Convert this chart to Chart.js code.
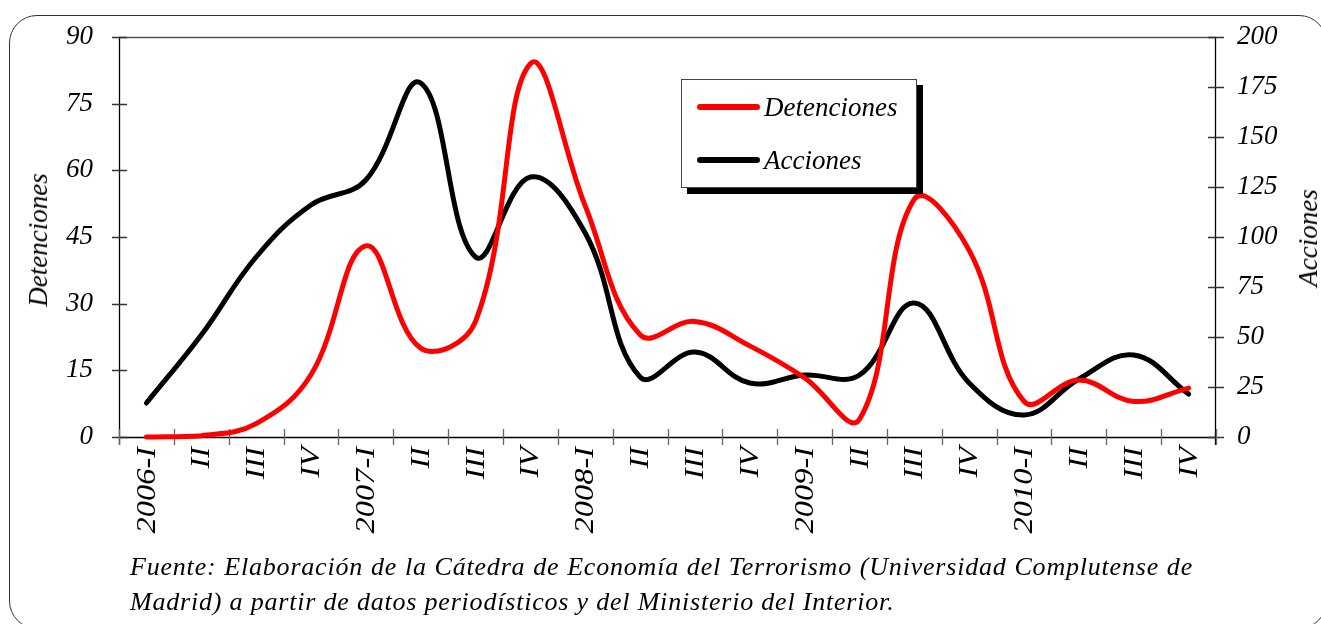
<!DOCTYPE html>
<html>
<head>
<meta charset="utf-8">
<script src="https://cdn.jsdelivr.net/npm/chart.js@4.4.1/dist/chart.umd.min.js"></script>
<style>
  html, body { margin: 0; padding: 0; background: #fff; }
  #wrap { position: relative; width: 1321px; height: 624px; overflow: hidden; background: #fff; }
  #frame { position: absolute; left: 9px; top: 15px; width: 1318px; height: 614px; border: 1.6px solid #333; border-radius: 28px; box-sizing: border-box; }
  canvas { position: absolute; left: 0; top: 0; }
  .serif { font-family: "Liberation Serif", "Times New Roman", serif; font-style: italic; color: #000; }
  #legend { position: absolute; left: 681px; top: 79px; width: 236px; height: 109px; box-sizing: border-box; border: 1.3px solid #444; background: #fff; box-shadow: 6px 6px 0 #000; }
  .item { position: absolute; left: 15px; height: 30px; }
  .sw { position: absolute; left: 0; top: 12px; width: 63px; height: 6px; border-radius: 3px; }
  .lt { position: absolute; left: 67px; top: 0; font-size: 27px; line-height: 30px; white-space: nowrap; }
  .atitle { position: absolute; font-size: 27px; white-space: nowrap; transform: translate(-50%, -50%) rotate(-90deg); line-height: 30px; }
  #foot { position: absolute; left: 130px; top: 549px; width: 1063px; font-size: 26px; line-height: 35px; letter-spacing: 0.8px; }
  #foot .l1 { text-align: justify; text-align-last: justify; white-space: nowrap; }
</style>
</head>
<body>
<div id="wrap">
  <div id="frame"></div>
  <canvas id="c" width="1321" height="624"></canvas>
  <div id="legend" class="serif"></div>
  <div class="atitle serif" id="tl" style="left:38px; top:240px;">Detenciones</div>
  <div class="atitle serif" id="tr" style="left:1308px; top:238px;">Acciones</div>
  <div id="foot" class="serif">
    <div class="l1">Fuente: Elaboración de la Cátedra de Economía del Terrorismo (Universidad Complutense de</div>
    <div class="l2">Madrid) a partir de datos periodísticos y del Ministerio del Interior.</div>
  </div>
</div>
<script>
// ---- data ----
const categories = ["2006-I","II","III","IV","2007-I","II","III","IV","2008-I","II","III","IV","2009-I","II","III","IV","2010-I","II","III","IV"];
const detenciones = [0, 0.3, 3, 14, 43, 20, 26, 84, 52, 23, 26, 20.5, 13.3, 4, 53.5, 42, 8, 12.8, 8, 11];
const acciones = [17, 51, 90, 116, 128.5, 177, 90, 130, 102, 30, 42.5, 27, 31, 31, 67, 27, 11, 29, 41, 21.5];
const leftTicks = [0, 15, 30, 45, 60, 75, 90];
const rightTicks = [0, 25, 50, 75, 100, 125, 150, 175, 200];
const seriesNames = ["Detenciones", "Acciones"];
const seriesColors = ["#ff0000", "#000000"];

const FAMILY = "'Liberation Serif', 'Times New Roman', serif";
const FONT = { family: FAMILY, style: "italic", size: 27 };

const axesPlugin = {
  id: 'axesPlugin',
  beforeDatasetsDraw(chart) {
    const ctx = chart.ctx;
    const a = chart.chartArea;
    const yl = chart.scales.y, yr = chart.scales.y1;
    ctx.save();
    // top frame line
    ctx.strokeStyle = '#555';
    ctx.lineWidth = 1.5;
    ctx.beginPath(); ctx.moveTo(a.left, a.top + 0.5); ctx.lineTo(a.right, a.top + 0.5); ctx.stroke();
    // axis lines
    ctx.strokeStyle = '#000';
    ctx.lineWidth = 1.3;
    ctx.beginPath();
    ctx.moveTo(a.left + 0.5, a.top); ctx.lineTo(a.left + 0.5, a.bottom + 8);
    ctx.moveTo(a.right - 0.5, a.top); ctx.lineTo(a.right - 0.5, a.bottom + 8);
    ctx.moveTo(a.left, a.bottom + 0.5); ctx.lineTo(a.right, a.bottom + 0.5);
    ctx.stroke();
    // y ticks (crossing)
    ctx.strokeStyle = '#333';
    ctx.lineWidth = 1.3;
    ctx.beginPath();
    leftTicks.forEach(v => { const p = Math.round(yl.getPixelForValue(v)) + 0.5; ctx.moveTo(a.left - 7, p); ctx.lineTo(a.left + 8, p); });
    rightTicks.forEach(v => { const p = Math.round(yr.getPixelForValue(v)) + 0.5; ctx.moveTo(a.right - 8, p); ctx.lineTo(a.right + 8, p); });
    ctx.stroke();
    // x ticks at category boundaries
    ctx.strokeStyle = '#666';
    ctx.beginPath();
    const n = categories.length;
    for (let i = 0; i <= n; i++) {
      const p = Math.round(a.left + (a.right - a.left) * i / n) + 0.5;
      ctx.moveTo(p, a.bottom - 8); ctx.lineTo(p, a.bottom + 8);
    }
    ctx.stroke();
    ctx.restore();
  },
  afterDraw(chart) {
    // rotated category labels (reading bottom-to-top), stretched along the text direction
    const ctx = chart.ctx;
    const a = chart.chartArea;
    const x = chart.scales.x;
    ctx.save();
    ctx.fillStyle = '#000';
    ctx.font = 'italic 27px ' + FAMILY;
    ctx.textAlign = 'right';
    ctx.textBaseline = 'middle';
    categories.forEach((lab, i) => {
      const px = x.getPixelForValue(i);
      ctx.save();
      ctx.translate(px + 1, a.bottom + 10);
      ctx.rotate(-Math.PI / 2);
      ctx.scale(1.2, 1);
      ctx.fillText(lab, 0, 0);
      ctx.restore();
    });
    ctx.restore();
  }
};

function fixPad(s) { s.paddingTop = 0; s.paddingBottom = 0; }

const ctx = document.getElementById('c').getContext('2d');
new Chart(ctx, {
  type: 'line',
  data: {
    labels: categories,
    datasets: [
      { label: seriesNames[0], data: detenciones, yAxisID: 'y', borderColor: seriesColors[0], backgroundColor: seriesColors[0], borderWidth: 5, pointRadius: 0, tension: 0.4, clip: false, borderJoinStyle: 'round', borderCapStyle: 'round' },
      { label: seriesNames[1], data: acciones, yAxisID: 'y1', borderColor: seriesColors[1], backgroundColor: seriesColors[1], borderWidth: 5, pointRadius: 0, tension: 0.4, clip: false, borderJoinStyle: 'round', borderCapStyle: 'round' }
    ]
  },
  options: {
    responsive: false,
    animation: false,
    events: [],
    layout: { padding: { top: 37, left: 0, right: 0, bottom: 0 } },
    plugins: { legend: { display: false }, tooltip: { enabled: false }, title: { display: false } },
    scales: {
      x: {
        type: 'category',
        offset: true,
        grid: { display: false, drawTicks: false },
        border: { display: false },
        ticks: { display: false, autoSkip: false },
        afterFit(s) { s.height = 187; s.paddingLeft = 0; s.paddingRight = 0; }
      },
      y: {
        position: 'left',
        min: 0, max: 90,
        afterBuildTicks(s) { s.ticks = leftTicks.map(v => ({ value: v })); },
        grid: { display: false, drawTicks: false },
        border: { display: false },
        ticks: { font: FONT, color: '#000', padding: 26 },
        afterFit(s) { s.width = 119; fixPad(s); }
      },
      y1: {
        position: 'right',
        min: 0, max: 200,
        afterBuildTicks(s) { s.ticks = rightTicks.map(v => ({ value: v })); },
        grid: { display: false, drawTicks: false },
        border: { display: false },
        ticks: { font: FONT, color: '#000', padding: 21 },
        afterFit(s) { s.width = 105; fixPad(s); }
      }
    }
  },
  plugins: [axesPlugin]
});

// legend built from series arrays
const lg = document.getElementById('legend');
const tops = [12, 65];
seriesNames.forEach((name, i) => {
  const it = document.createElement('div');
  it.className = 'item';
  it.style.top = tops[i] + 'px';
  const sw = document.createElement('div');
  sw.className = 'sw';
  sw.style.background = seriesColors[i];
  const t = document.createElement('div');
  t.className = 'lt';
  t.textContent = name;
  it.appendChild(sw); it.appendChild(t);
  lg.appendChild(it);
});
</script>
</body>
</html>
